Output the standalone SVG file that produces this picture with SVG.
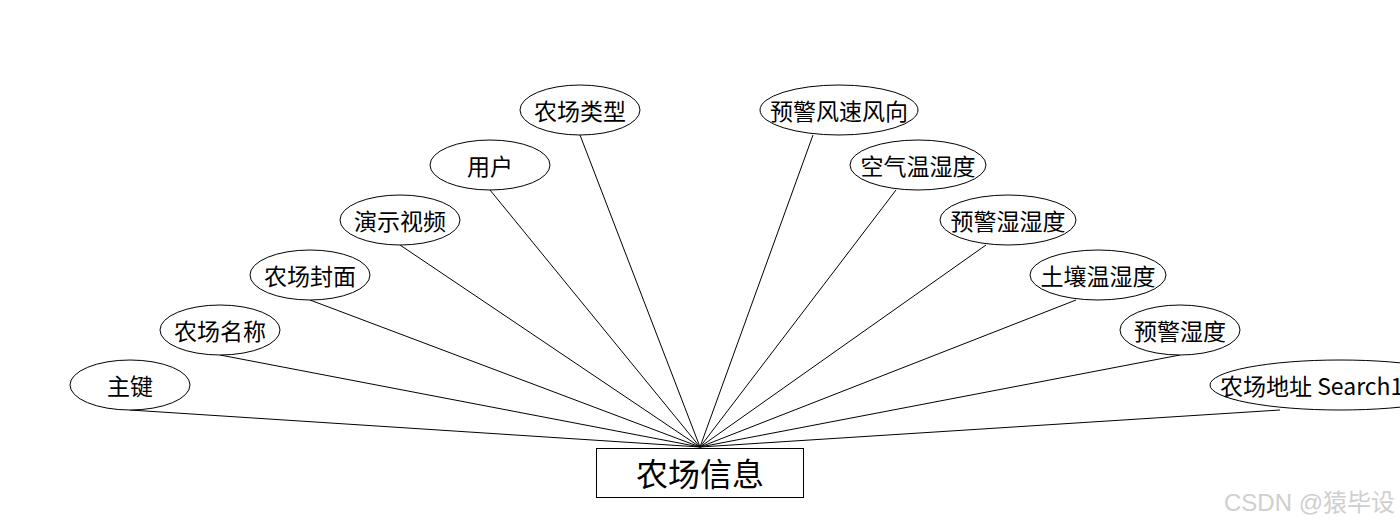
<svg xmlns="http://www.w3.org/2000/svg" width="1400" height="528" viewBox="0 0 1400 528">
<style>
.e{fill:#fff;stroke:#000;stroke-width:1}
.t{font-family:"Microsoft YaHei","Noto Sans CJK SC","Noto Sans",sans-serif;font-size:23px;fill:#000;text-anchor:middle;dominant-baseline:central}
.c line{stroke:#000;stroke-width:1}
</style>
<rect width="1400" height="528" fill="#fff"/>
<g class="c" id="connectors">
<line x1="130" y1="410" x2="700" y2="447"/>
<line x1="220" y1="355" x2="700" y2="447"/>
<line x1="310" y1="300" x2="700" y2="447"/>
<line x1="400" y1="245" x2="700" y2="447"/>
<line x1="490" y1="190" x2="700" y2="447"/>
<line x1="580" y1="135" x2="700" y2="447"/>
<line x1="813" y1="135" x2="700" y2="447"/>
<line x1="896" y1="190" x2="700" y2="447"/>
<line x1="986" y1="245" x2="700" y2="447"/>
<line x1="1076" y1="300" x2="700" y2="447"/>
<line x1="1180" y1="355" x2="700" y2="447"/>
<line x1="1280" y1="410" x2="700" y2="447"/>
</g>
<g id="n0"><ellipse class="e" cx="130" cy="385" rx="60" ry="25"/><text class="t" x="130" y="385">主键</text></g>
<g id="n1"><ellipse class="e" cx="220" cy="330" rx="60" ry="25"/><text class="t" x="220" y="330">农场名称</text></g>
<g id="n2"><ellipse class="e" cx="310" cy="275" rx="60" ry="25"/><text class="t" x="310" y="275">农场封面</text></g>
<g id="n3"><ellipse class="e" cx="400" cy="220" rx="60" ry="25"/><text class="t" x="400" y="220">演示视频</text></g>
<g id="n4"><ellipse class="e" cx="490" cy="165" rx="60" ry="25"/><text class="t" x="490" y="165">用户</text></g>
<g id="n5"><ellipse class="e" cx="580" cy="110" rx="60" ry="25"/><text class="t" x="580" y="110">农场类型</text></g>
<g id="n6"><ellipse class="e" cx="839" cy="110" rx="79" ry="25"/><text class="t" x="839" y="110">预警风速风向</text></g>
<g id="n7"><ellipse class="e" cx="918" cy="165" rx="68" ry="25"/><text class="t" x="918" y="165">空气温湿度</text></g>
<g id="n8"><ellipse class="e" cx="1008" cy="220" rx="68" ry="25"/><text class="t" x="1008" y="220">预警湿湿度</text></g>
<g id="n9"><ellipse class="e" cx="1098" cy="275" rx="68" ry="25"/><text class="t" x="1098" y="275">土壤温湿度</text></g>
<g id="n10"><ellipse class="e" cx="1180" cy="330" rx="60" ry="25"/><text class="t" x="1180" y="330">预警湿度</text></g>
<g id="n11"><ellipse class="e" cx="1340" cy="385" rx="130" ry="25"/><text class="t" x="1220" y="385" style="text-anchor:start">农场地址 Search1</text></g>
<g id="main"><rect x="596.5" y="448.5" width="207" height="49" fill="#fff" stroke="#000" stroke-width="1"/><text class="t" x="700" y="472" style="font-size:32px">农场信息</text></g>
<text x="1395" y="511" style="font-family:'Liberation Sans','Noto Sans CJK SC',sans-serif;font-size:24px;fill:#cfcfcf;text-anchor:end">CSDN @猿毕设</text>
</svg>
